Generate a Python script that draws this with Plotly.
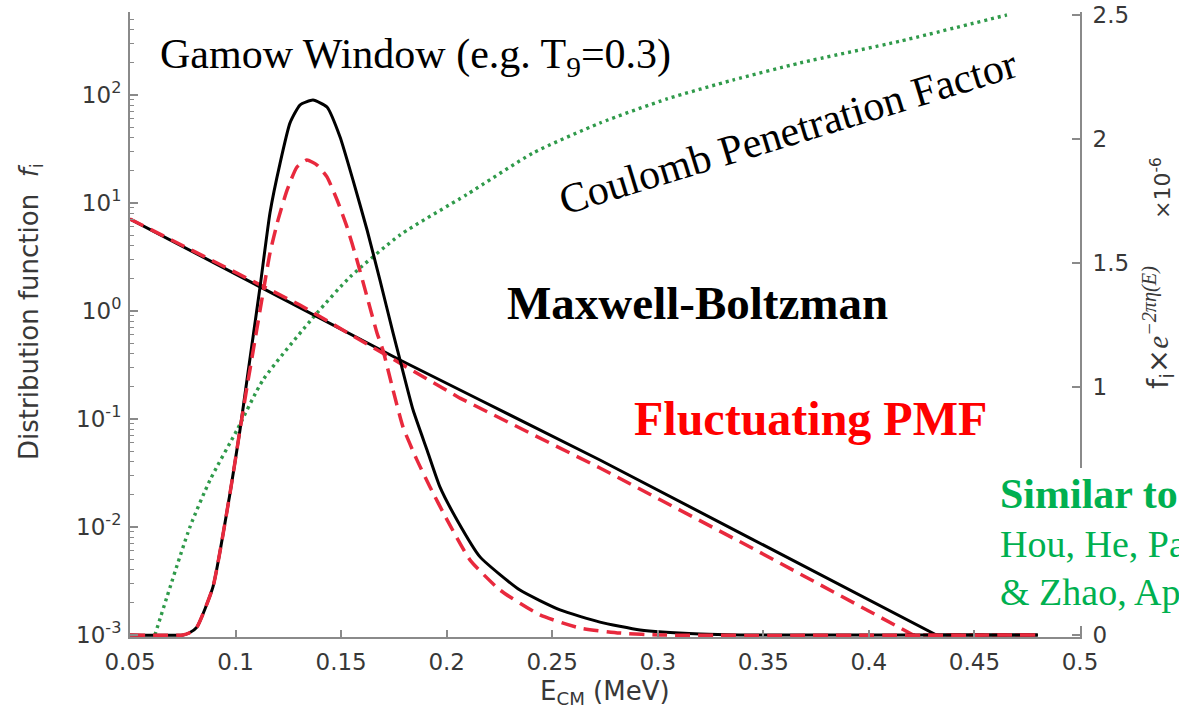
import plotly.graph_objects as go

# ---------------- data ----------------
# Maxwell-Boltzmann distribution (left, log axis)
mb_energy = [0.05, 0.1116, 0.1779, 0.2158, 0.2726, 0.3437, 0.4299, 0.432, 0.48]
mb_values = [7.11, 1.67, 0.352, 0.150, 0.0417, 0.0079, 0.00105, 0.001, 0.001]

# Fluctuating PMF distribution (left, log axis)
pmf_energy = [0.05, 0.1305, 0.2063, 0.2726, 0.3437, 0.4195, 0.421, 0.48]
pmf_values = [7.11, 1.137, 0.156, 0.0352, 0.00653, 0.00104, 0.001, 0.001]

# Coulomb penetration factor (left, log axis)
coul_energy = [0.0618, 0.0784, 0.0879, 0.1007, 0.113, 0.1386, 0.1542, 0.1779,
               0.2096, 0.2409, 0.2726, 0.3044, 0.3356, 0.3674, 0.4147, 0.4654]
coul_values = [0.001, 0.01, 0.0272, 0.0791, 0.2297, 0.958, 2.064, 5.055,
               12.0, 29.0, 55.0, 92.0, 137.6, 198.0, 315.0, 551.0]

# Gamow peak, Maxwell-Boltzmann (right axis, x1e-6)
gmb_energy = [0.05, 0.0751, 0.078, 0.0817, 0.0893, 0.0974, 0.1021, 0.1054, 0.1116,
              0.1163, 0.1211, 0.1258, 0.1305, 0.1367, 0.1433, 0.1495, 0.1556,
              0.1623, 0.1684, 0.1746, 0.1779, 0.1841, 0.1907, 0.1968, 0.2049,
              0.2158, 0.2347, 0.2537, 0.2726, 0.2916, 0.32, 0.339, 0.48]
gmb_values = [0, 0, 0.008, 0.032, 0.194, 0.573, 0.827, 1.028, 1.403,
              1.702, 1.903, 2.065, 2.137, 2.157, 2.129, 2.008, 1.835,
              1.633, 1.431, 1.218, 1.109, 0.907, 0.746, 0.597, 0.464,
              0.315, 0.181, 0.101, 0.052, 0.020, 0.004, 0, 0]

# Gamow peak, fluctuating PMF (right axis, x1e-6)
gpmf_energy = [0.05, 0.0751, 0.078, 0.0817, 0.0893, 0.0974, 0.1021, 0.1054, 0.1068,
               0.113, 0.1163, 0.1201, 0.1244, 0.1291, 0.1338, 0.1386, 0.1433,
               0.1481, 0.1528, 0.1575, 0.1623, 0.167, 0.1698, 0.1746, 0.1793,
               0.1859, 0.1921, 0.2002, 0.2111, 0.2253, 0.2442, 0.2632, 0.2821,
               0.301, 0.48]
gpmf_values = [0, 0, 0.008, 0.032, 0.194, 0.573, 0.827, 1.0, 1.069,
               1.379, 1.540, 1.673, 1.794, 1.887, 1.915, 1.895, 1.847,
               1.754, 1.645, 1.512, 1.363, 1.218, 1.149, 0.988, 0.839,
               0.706, 0.597, 0.464, 0.302, 0.181, 0.081, 0.028, 0.008,
               0, 0]

x_ticks = [0.05, 0.1, 0.15, 0.2, 0.25, 0.3, 0.35, 0.4, 0.45, 0.5]
x_ticklabels = ["0.05", "0.1", "0.15", "0.2", "0.25", "0.3", "0.35", "0.4", "0.45", "0.5"]
y_ticks = [1e-3, 1e-2, 1e-1, 1, 10, 100]
y_ticklabels = ["10<sup>-3</sup>", "10<sup>-2</sup>", "10<sup>-1</sup>",
                "10<sup>0</sup>", "10<sup>1</sup>", "10<sup>2</sup>"]
y2_ticks = [0, 1, 1.5, 2, 2.5]
y2_ticklabels = ["0", "1", "1.5", "2", "2.5"]

# ---------------- figure ----------------
W, H = 1179, 714
L, R, T, B = 130, 99, 12, 77
px_per_dec = 108.0
px_per_unit2 = 248.0
bottom_px = 637
floor_px = 635

AXC = "#8a8a8a"
TXC = "#383838"
RED = "#e8293d"
GREEN = "#2f9a4a"
SANS = "DejaVu Sans, Liberation Sans, Arial, sans-serif"
SERIF = "Liberation Serif, Times New Roman, serif"

fig = go.Figure()

fig.add_trace(go.Scatter(x=coul_energy, y=coul_values, mode="lines", yaxis="y",
                         line=dict(color=GREEN, width=3.4, dash="3px,4px", shape="spline", smoothing=0.6),
                         showlegend=False))
fig.add_trace(go.Scatter(x=mb_energy, y=mb_values, mode="lines", yaxis="y",
                         line=dict(color="black", width=3), showlegend=False))
fig.add_trace(go.Scatter(x=gmb_energy, y=gmb_values, mode="lines", yaxis="y2",
                         line=dict(color="black", width=3, shape="spline", smoothing=0.5),
                         showlegend=False))
fig.add_trace(go.Scatter(x=pmf_energy, y=pmf_values, mode="lines", yaxis="y",
                         line=dict(color=RED, width=3.5, dash="15px,8px"), showlegend=False))
fig.add_trace(go.Scatter(x=gpmf_energy, y=gpmf_values, mode="lines", yaxis="y2",
                         line=dict(color=RED, width=3.5, dash="15px,8px", shape="spline", smoothing=0.5),
                         showlegend=False))

plot_h = H - T - B
y_lo = -3 - (bottom_px - floor_px) / px_per_dec
y_hi = -3 + (floor_px - T) / px_per_dec
y2_lo = -(bottom_px - floor_px) / px_per_unit2
y2_hi = (floor_px - T) / px_per_unit2

tickfont = dict(family=SANS, size=23, color=TXC)

fig.update_layout(
    width=W, height=H,
    margin=dict(l=L, r=R, t=T, b=B, pad=0, autoexpand=False),
    paper_bgcolor="white", plot_bgcolor="white",
    xaxis=dict(range=[0.05, 0.5], tickmode="array", tickvals=x_ticks, ticktext=x_ticklabels,
               ticks="inside", ticklen=7, tickwidth=1.5, tickcolor=AXC, automargin=False,
               showline=True, linecolor=AXC, linewidth=2, showgrid=False, zeroline=False,
               tickfont=tickfont, ticklabelstandoff=3),
    yaxis=dict(type="log", range=[y_lo, y_hi], tickmode="array", tickvals=y_ticks,
               ticktext=y_ticklabels, ticks="inside", ticklen=8, tickwidth=1.5, tickcolor=AXC,
               minor=dict(ticks="inside", ticklen=4, tickcolor=AXC, tickwidth=1, dtick="D1", showgrid=False),
               showline=True, linecolor=AXC, linewidth=2, showgrid=False, zeroline=False,
               tickfont=tickfont, ticklabelstandoff=2, automargin=False),
    yaxis2=dict(overlaying="y", side="right", range=[y2_lo, y2_hi], tickmode="array",
                tickvals=y2_ticks, ticktext=y2_ticklabels, ticks="inside", ticklen=8,
                tickwidth=1.5, tickcolor=AXC, showline=True, linecolor=AXC, linewidth=2,
                showgrid=False, zeroline=False, tickfont=tickfont, ticklabelstandoff=6,
                automargin=False),
)

def px_x(p):
    return (p - L) / (W - L - R)

def px_y(p):
    return (H - B - p) / plot_h

# white box behind the green reference note (covers part of right axis)
fig.add_shape(type="rect", xref="paper", yref="paper",
              x0=px_x(992), x1=px_x(1185), y0=px_y(626), y1=px_y(468),
              fillcolor="white", line=dict(width=0), layer="above")

ann = []
# axis titles
ann.append(dict(text="E<sub>CM</sub> (MeV)", x=px_x(605), y=px_y(693), xref="paper", yref="paper",
                showarrow=False, font=dict(family=SANS, size=26, color=TXC), xanchor="center", yanchor="middle"))
ann.append(dict(text="Distribution function  <i>f</i><sub>i</sub>", x=px_x(30), y=px_y(312),
                xref="paper", yref="paper", showarrow=False, textangle=-90,
                font=dict(family=SANS, size=26, color=TXC), xanchor="center", yanchor="middle"))
ann.append(dict(text="f<sub>i</sub>×<i><span style='font-family:Liberation Serif'>e</span></i><sup><i><span style='font-family:Liberation Serif'>−2πη(E)</span></i></sup>",
                x=px_x(1158), y=px_y(328), xref="paper", yref="paper", showarrow=False, textangle=-90,
                font=dict(family=SANS, size=29, color=TXC), xanchor="center", yanchor="middle"))
ann.append(dict(text="×10<sup>-6</sup>", x=px_x(1161), y=px_y(188), xref="paper", yref="paper",
                showarrow=False, textangle=-90, font=dict(family=SANS, size=22, color=TXC),
                xanchor="center", yanchor="middle"))
# text labels
ann.append(dict(text="Gamow Window (e.g. T<sub>9</sub>=0.3)", x=px_x(158), y=px_y(57),
                xref="paper", yref="paper", showarrow=False, xanchor="left", yanchor="middle",
                font=dict(family=SERIF, size=42, color="black")))
ann.append(dict(text="Coulomb Penetration Factor", x=px_x(788), y=px_y(132),
                xref="paper", yref="paper", showarrow=False, xanchor="center", yanchor="middle",
                textangle=-17, font=dict(family=SERIF, size=42, color="black")))
ann.append(dict(text="<b>Maxwell-Boltzman</b>", x=px_x(697), y=px_y(303),
                xref="paper", yref="paper", showarrow=False, xanchor="center", yanchor="middle",
                font=dict(family=SERIF, size=47, color="black")))
ann.append(dict(text="<b>Fluctuating PMF</b>", x=px_x(810), y=px_y(418),
                xref="paper", yref="paper", showarrow=False, xanchor="center", yanchor="middle",
                font=dict(family=SERIF, size=48, color="red")))
ann.append(dict(text="<b>Similar to</b>", x=px_x(998), y=px_y(494),
                xref="paper", yref="paper", showarrow=False, xanchor="left", yanchor="middle",
                font=dict(family=SERIF, size=42, color="#00b050")))
ann.append(dict(text="Hou, He, Pa", x=px_x(998), y=px_y(544),
                xref="paper", yref="paper", showarrow=False, xanchor="left", yanchor="middle",
                font=dict(family=SERIF, size=38, color="#00b050")))
ann.append(dict(text="& Zhao, Ap", x=px_x(998), y=px_y(592),
                xref="paper", yref="paper", showarrow=False, xanchor="left", yanchor="middle",
                font=dict(family=SERIF, size=38, color="#00b050")))
fig.update_layout(annotations=ann)

fig.write_html("out.html")
